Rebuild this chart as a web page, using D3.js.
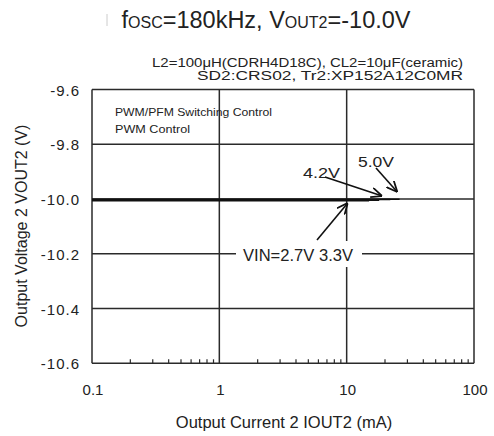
<!DOCTYPE html>
<html><head><meta charset="utf-8">
<script src="https://cdn.jsdelivr.net/npm/d3@7"></script>
<style>body{margin:0;background:#fff}svg{display:block}text{font-family:"Liberation Sans",Arial,sans-serif;fill:#222}</style>
</head><body><svg id="chart" width="494" height="436"></svg>
<script>
// Output current (mA) sample points and output voltage per input voltage
const currents27 = [0.1, 0.2, 0.5, 1, 2, 5, 10, 15];
const vout27 = [-10.006, -10.006, -10.006, -10.006, -10.006, -10.006, -10.006, -10.006];
const currents33 = [0.1, 0.2, 0.5, 1, 2, 5, 10, 18];
const vout33 = [-10.004, -10.004, -10.004, -10.004, -10.004, -10.004, -10.004, -10.004];
const currents42 = [0.1, 0.2, 0.5, 1, 2, 5, 10, 22];
const vout42 = [-10.002, -10.002, -10.002, -10.002, -10.002, -10.002, -10.002, -10.002];
const currents50 = [0.1, 0.2, 0.5, 1, 2, 5, 10, 26];
const vout50 = [-10.001, -10.001, -10.001, -10.001, -10.001, -10.001, -10.001, -10.001];
const xTicks = [0.1, 1, 10, 100];
const xTickLabels = ["0.1", "1", "10", "100"];
const yTicks = [-9.6, -9.8, -10.0, -10.2, -10.4, -10.6];
const yTickLabels = ["-9.6", "-9.8", "-10.0", "-10.2", "-10.4", "-10.6"];

const svg = d3.select("#chart");
const m = {l: 92, r: 474, t: 89.5, b: 363.3};
const x = d3.scaleLog().domain([0.1, 100]).range([m.l, m.r]);
const y = d3.scaleLinear().domain([-10.6, -9.6]).range([m.b, m.t]);
const ink = "#2a2a2a";

// Title with subscripts
const title = svg.append("text").attr("x", 266).attr("y", 28).attr("text-anchor", "middle")
  .style("font-size", "23.5px");
title.append("tspan").text("f");
title.append("tspan").text("OSC").style("font-size", "16px");
title.append("tspan").text("=180kHz, V");
title.append("tspan").text("OUT2").style("font-size", "16px");
title.append("tspan").text("=-10.0V");
svg.append("line").attr("x1", 107).attr("x2", 107).attr("y1", 14).attr("y2", 26)
  .attr("stroke", "#ccc").attr("stroke-width", 1);

// Conditions
svg.append("text").attr("x", 152).attr("y", 67).style("font-size", "12px")
  .attr("textLength", 311).attr("lengthAdjust", "spacingAndGlyphs")
  .text("L2=100\u03bcH(CDRH4D18C), CL2=10\u03bcF(ceramic)");
svg.append("text").attr("x", 197).attr("y", 79.5).style("font-size", "12px")
  .attr("textLength", 266).attr("lengthAdjust", "spacingAndGlyphs")
  .text("SD2:CRS02, Tr2:XP152A12C0MR");

// Grid
const g = svg.append("g");
g.selectAll(".vg").data(xTicks).join("line")
  .attr("x1", d => x(d)).attr("x2", d => x(d)).attr("y1", m.t).attr("y2", m.b)
  .attr("stroke", ink).attr("stroke-width", 1.5);
g.selectAll(".hg").data(yTicks).join("line")
  .attr("x1", m.l).attr("x2", m.r).attr("y1", d => y(d)).attr("y2", d => y(d))
  .attr("stroke", ink).attr("stroke-width", 1.5);

// Minor ticks along the bottom edge (inward)
const minors = [];
[0.1, 1, 10].forEach(dec => { for (let k = 2; k <= 9; k++) minors.push(dec * k); });
g.selectAll(".mt").data(minors).join("line")
  .attr("x1", d => x(d)).attr("x2", d => x(d)).attr("y1", m.b).attr("y2", m.b - 4)
  .attr("stroke", ink).attr("stroke-width", 1.2);

// Axis labels
svg.selectAll(".yl").data(yTicks).join("text")
  .attr("x", 80).attr("y", d => y(d) + 6).attr("text-anchor", "end").style("font-size", "15px")
  .style("letter-spacing", "1px")
  .text((d, i) => yTickLabels[i]);
svg.selectAll(".xl").data(xTicks).join("text")
  .attr("x", d => x(d) + 1).attr("y", 395).attr("text-anchor", "middle").style("font-size", "15px")
  .text((d, i) => xTickLabels[i]);
svg.append("text").attr("x", 284).attr("y", 428).attr("text-anchor", "middle").style("font-size", "16.5px")
  .text("Output Current 2 IOUT2 (mA)");
svg.append("text").attr("transform", "translate(27,226) rotate(-90)").attr("text-anchor", "middle")
  .style("font-size", "16px").text("Output Voltage 2 VOUT2 (V)");

// Mode notes
svg.append("text").attr("x", 115).attr("y", 116).style("font-size", "11px").attr("textLength", 157)
  .attr("lengthAdjust", "spacingAndGlyphs").text("PWM/PFM Switching Control");
svg.append("text").attr("x", 115).attr("y", 132.5).style("font-size", "11px").attr("textLength", 75)
  .attr("lengthAdjust", "spacingAndGlyphs").text("PWM  Control");

// Data lines
const line = d3.line().x(d => x(d[0])).y(d => y(d[1]));
const series = [
  [currents27, vout27], [currents33, vout33], [currents42, vout42], [currents50, vout50]
];
series.forEach(([cs, vs]) => {
  svg.append("path").datum(cs.map((c, i) => [c, vs[i]])).attr("d", line)
    .attr("fill", "none").attr("stroke", "#111").attr("stroke-width", 1.6);
});

// Annotations with arrows
const defs = svg.append("defs");
defs.append("marker").attr("id", "ah").attr("viewBox", "0 0 10 10").attr("refX", 10).attr("refY", 5)
  .attr("markerWidth", 7).attr("markerHeight", 7).attr("markerUnits", "userSpaceOnUse")
  .attr("orient", "auto")
  .append("path").attr("d", "M0,0.5 L10,5 L0,9.5").attr("fill", "none").attr("stroke", "#111").attr("stroke-width", 1.6);
defs.select("marker").attr("markerWidth", 11).attr("markerHeight", 11);

// white box under the VIN label
svg.append("rect").attr("x", 236).attr("y", 241).attr("width", 126).attr("height", 26).attr("fill", "#fff");
svg.append("text").attr("x", 243).attr("y", 261).style("font-size", "16px")
  .attr("textLength", 110).attr("lengthAdjust", "spacingAndGlyphs").text("VIN=2.7V 3.3V");
svg.append("text").attr("x", 303).attr("y", 178).style("font-size", "15px")
  .attr("textLength", 37).attr("lengthAdjust", "spacingAndGlyphs").text("4.2V");
svg.append("text").attr("x", 358).attr("y", 167).style("font-size", "15px")
  .attr("textLength", 36).attr("lengthAdjust", "spacingAndGlyphs").text("5.0V");

// arrow start points, and current at the arrow tip with its vertical offset from the curve
const arrows = [
  [[325, 177], 19, -3],
  [[376, 168], 25, -7],
  [[317, 240], 10.2, 4]
];
arrows.forEach(([p0, cx, dy]) => {
  svg.append("line").attr("x1", p0[0]).attr("y1", p0[1])
    .attr("x2", x(cx)).attr("y2", y(-10.0) + dy)
    .attr("stroke", "#111").attr("stroke-width", 1.6).attr("marker-end", "url(#ah)");
});
</script></body></html>
